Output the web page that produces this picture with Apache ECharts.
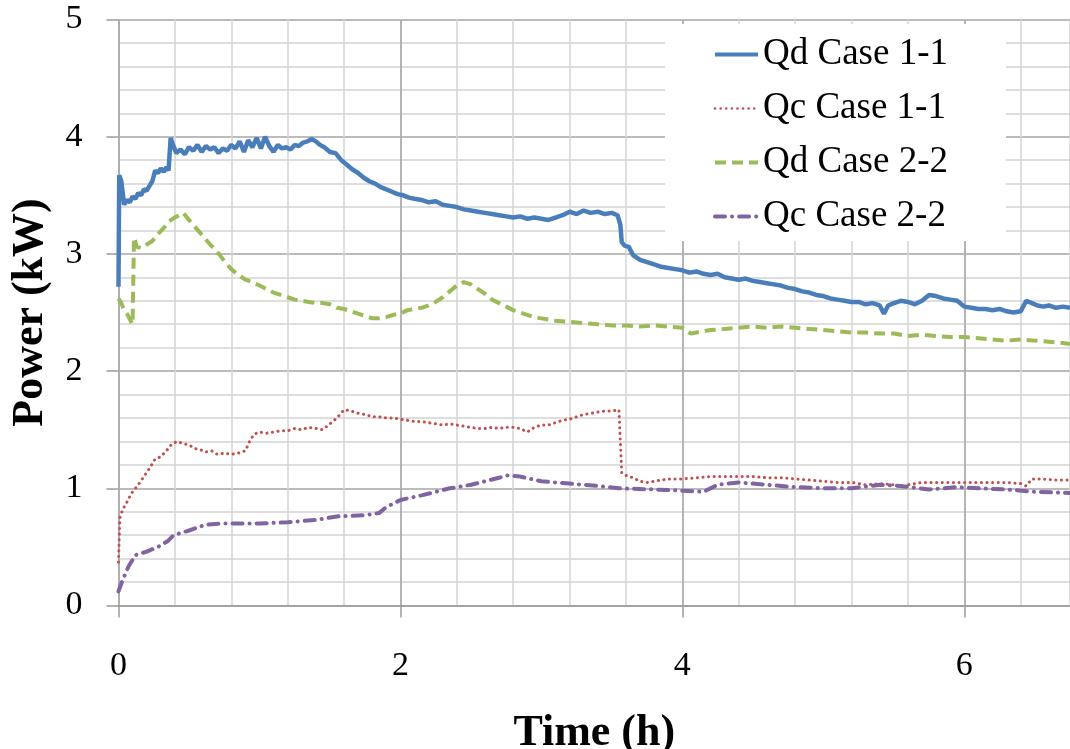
<!DOCTYPE html>
<html>
<head>
<meta charset="utf-8">
<script src="https://cdn.jsdelivr.net/npm/echarts@6/dist/echarts.min.js"></script>
<style>
html,body{margin:0;padding:0;background:#fff;}
#chart{width:1070px;height:749px;}
</style>
</head>
<body>
<div id="chart"></div>
<script>
// ---- Data (time in h, power in kW) ----
var seriesNames = ['Qd Case 1-1', 'Qc Case 1-1', 'Qd Case 2-2', 'Qc Case 2-2'];
var xTickLabels = [0, 2, 4, 6];
var yTickLabels = [0, 1, 2, 3, 4, 5];

var qdCase11Time = [0,0.005,0.02,0.04,0.06,0.08,0.10,0.12,0.14,0.16,0.18,0.20,0.22,0.24,0.26,0.28,0.30,0.32,0.34,0.355,0.37,0.39,0.41,0.44,0.47,0.50,0.53,0.56,0.59,0.62,0.65,0.68,0.71,0.74,0.77,0.80,0.83,0.86,0.89,0.92,0.95,0.98,1.01,1.04,1.07,1.10,1.13,1.16,1.19,1.22,1.25,1.28,1.31,1.34,1.37,1.40,1.43,1.46,1.50,1.54,1.58,1.62,1.66,1.70,1.74,1.78,1.82,1.86,1.90,1.94,1.98,2.02,2.06,2.10,2.15,2.20,2.25,2.30,2.35,2.40,2.45,2.50,2.55,2.60,2.65,2.70,2.75,2.80,2.85,2.90,2.95,3.00,3.05,3.10,3.15,3.20,3.25,3.30,3.35,3.40,3.45,3.50,3.54,3.56,3.57,3.59,3.62,3.65,3.70,3.75,3.80,3.85,3.90,3.95,4.00,4.05,4.10,4.15,4.20,4.25,4.30,4.35,4.40,4.45,4.50,4.55,4.60,4.65,4.70,4.75,4.80,4.85,4.90,4.95,5.00,5.05,5.10,5.15,5.20,5.25,5.30,5.35,5.40,5.43,5.46,5.50,5.55,5.60,5.65,5.70,5.75,5.80,5.85,5.90,5.95,6.00,6.05,6.10,6.15,6.20,6.25,6.30,6.35,6.40,6.44,6.48,6.52,6.56,6.60,6.65,6.70,6.75];
var qdCase11 = [2.72,3.67,3.62,3.42,3.46,3.44,3.49,3.47,3.52,3.50,3.55,3.54,3.58,3.62,3.71,3.69,3.73,3.70,3.74,3.71,3.99,3.92,3.86,3.89,3.85,3.91,3.88,3.93,3.87,3.92,3.89,3.91,3.86,3.90,3.88,3.93,3.90,3.96,3.87,3.97,3.91,3.99,3.90,4.00,3.92,3.87,3.93,3.90,3.91,3.89,3.93,3.92,3.95,3.96,3.98,3.96,3.93,3.91,3.87,3.86,3.80,3.76,3.72,3.69,3.65,3.62,3.60,3.57,3.55,3.53,3.51,3.50,3.48,3.47,3.46,3.44,3.45,3.42,3.41,3.40,3.38,3.37,3.36,3.35,3.34,3.33,3.32,3.31,3.32,3.30,3.31,3.30,3.29,3.31,3.33,3.36,3.34,3.37,3.35,3.36,3.34,3.35,3.33,3.25,3.10,3.07,3.06,2.99,2.95,2.93,2.91,2.89,2.88,2.87,2.86,2.84,2.85,2.83,2.82,2.83,2.80,2.79,2.78,2.79,2.77,2.76,2.75,2.74,2.73,2.71,2.70,2.68,2.67,2.65,2.64,2.62,2.61,2.60,2.59,2.59,2.57,2.58,2.56,2.49,2.56,2.58,2.60,2.59,2.57,2.60,2.65,2.64,2.62,2.61,2.60,2.55,2.54,2.53,2.53,2.52,2.53,2.51,2.50,2.51,2.60,2.58,2.56,2.55,2.56,2.54,2.55,2.54];

var qcCase11Time = [0,0.01,0.03,0.05,0.08,0.10,0.14,0.18,0.22,0.26,0.30,0.34,0.38,0.42,0.46,0.50,0.54,0.58,0.62,0.66,0.70,0.75,0.80,0.85,0.90,0.93,0.96,1.00,1.05,1.10,1.15,1.20,1.25,1.30,1.35,1.40,1.45,1.50,1.55,1.60,1.65,1.70,1.75,1.80,1.85,1.90,1.95,2.00,2.05,2.10,2.15,2.20,2.25,2.30,2.35,2.40,2.45,2.50,2.55,2.60,2.65,2.70,2.75,2.80,2.85,2.90,2.95,3.00,3.05,3.10,3.15,3.20,3.25,3.30,3.35,3.40,3.45,3.50,3.55,3.57,3.60,3.65,3.70,3.75,3.80,3.85,3.90,4.00,4.10,4.20,4.30,4.40,4.50,4.60,4.70,4.80,4.90,5.00,5.10,5.20,5.30,5.40,5.50,5.56,5.60,5.70,5.80,5.90,6.00,6.10,6.20,6.30,6.40,6.44,6.48,6.55,6.65,6.75];
var qcCase11 = [0.37,0.75,0.82,0.86,0.93,0.97,1.03,1.10,1.17,1.25,1.27,1.32,1.38,1.40,1.38,1.37,1.34,1.33,1.31,1.32,1.29,1.30,1.29,1.30,1.32,1.40,1.46,1.48,1.47,1.48,1.49,1.49,1.51,1.50,1.52,1.51,1.50,1.55,1.60,1.67,1.66,1.64,1.63,1.61,1.61,1.60,1.60,1.59,1.58,1.57,1.57,1.56,1.55,1.54,1.55,1.54,1.53,1.52,1.51,1.51,1.52,1.51,1.52,1.52,1.51,1.48,1.52,1.54,1.54,1.56,1.58,1.59,1.61,1.63,1.64,1.65,1.66,1.66,1.67,1.13,1.11,1.09,1.06,1.05,1.06,1.07,1.08,1.08,1.09,1.10,1.10,1.10,1.10,1.09,1.09,1.08,1.07,1.06,1.05,1.05,1.03,1.04,1.03,1.01,1.03,1.05,1.05,1.05,1.05,1.05,1.05,1.05,1.04,1.02,1.08,1.08,1.07,1.07];

var qdCase22Time = [0,0.02,0.04,0.06,0.09,0.10,0.11,0.13,0.16,0.20,0.24,0.28,0.32,0.36,0.40,0.46,0.50,0.55,0.60,0.65,0.70,0.75,0.80,0.85,0.90,0.95,1.00,1.05,1.10,1.15,1.20,1.25,1.30,1.35,1.40,1.45,1.50,1.55,1.60,1.65,1.70,1.75,1.80,1.85,1.90,1.95,2.00,2.05,2.10,2.15,2.20,2.25,2.30,2.35,2.40,2.45,2.50,2.55,2.60,2.65,2.70,2.75,2.80,2.85,2.90,2.95,3.00,3.10,3.20,3.30,3.40,3.50,3.60,3.70,3.80,3.90,4.00,4.06,4.10,4.20,4.30,4.40,4.50,4.60,4.70,4.80,4.90,5.00,5.10,5.20,5.30,5.40,5.50,5.60,5.70,5.80,5.90,6.00,6.10,6.20,6.30,6.40,6.50,6.60,6.70,6.75];
var qdCase22 = [2.62,2.58,2.52,2.49,2.42,2.40,3.14,3.06,3.05,3.08,3.11,3.17,3.22,3.28,3.31,3.35,3.29,3.22,3.15,3.08,3.02,2.94,2.87,2.82,2.78,2.76,2.73,2.70,2.67,2.65,2.63,2.61,2.60,2.59,2.58,2.58,2.57,2.54,2.53,2.51,2.49,2.47,2.45,2.45,2.46,2.48,2.49,2.52,2.53,2.54,2.56,2.59,2.63,2.68,2.73,2.76,2.74,2.70,2.66,2.61,2.58,2.55,2.52,2.50,2.48,2.46,2.45,2.43,2.42,2.41,2.40,2.39,2.39,2.38,2.39,2.38,2.37,2.32,2.33,2.35,2.36,2.37,2.38,2.37,2.38,2.37,2.36,2.35,2.34,2.33,2.33,2.32,2.32,2.30,2.31,2.30,2.29,2.29,2.28,2.27,2.26,2.27,2.26,2.25,2.24,2.23];

var qcCase22Time = [0,0.03,0.07,0.12,0.20,0.28,0.35,0.39,0.50,0.62,0.75,0.85,1.00,1.20,1.40,1.55,1.75,1.85,1.90,2.00,2.15,2.25,2.35,2.50,2.70,2.76,2.85,3.00,3.20,3.40,3.55,3.80,4.00,4.15,4.25,4.40,4.60,4.80,5.00,5.20,5.40,5.55,5.75,5.95,6.10,6.30,6.50,6.75];
var qcCase22 = [0.12,0.22,0.33,0.43,0.46,0.50,0.55,0.60,0.64,0.69,0.70,0.70,0.70,0.71,0.73,0.76,0.77,0.79,0.84,0.90,0.94,0.97,1.00,1.03,1.09,1.11,1.10,1.06,1.04,1.02,1.00,0.99,0.98,0.97,1.03,1.05,1.03,1.01,1.00,1.00,1.03,1.02,0.99,1.01,1.00,0.99,0.97,0.96];

function pairs(t, v) {
  var out = [];
  for (var i = 0; i < t.length; i++) out.push([t[i], v[i]]);
  return out;
}

var FONT = '"Liberation Serif", "Times New Roman", serif';
var chart = echarts.init(document.getElementById('chart'), null, {renderer: 'canvas'});

var option = {
  animation: false,
  backgroundColor: '#ffffff',
  grid: {left: 118.5, top: 19.5, right: 0, bottom: 143.5, containLabel: false, outerBoundsMode: 'none', show: false},
  xAxis: [
    {
      type: 'value', min: 0, max: 6.75, interval: 2, z: 2,
      axisLine: {show: true, onZero: false, lineStyle: {color: '#9a9a9a', width: 1.5}},
      axisTick: {show: true, inside: false, length: 12, lineStyle: {color: '#9a9a9a', width: 1.5},
        customValues: xTickLabels},
      axisLabel: {show: true, margin: 44, fontFamily: FONT, fontSize: 34, color: '#000',
        customValues: xTickLabels},
      splitLine: {show: true, lineStyle: {color: '#a6a6a6', width: 1.5}},
      name: 'Time (h)', nameLocation: 'middle', nameGap: 106,
      nameTextStyle: {fontFamily: FONT, fontSize: 44, fontWeight: 'bold', color: '#000'}
    },
    {
      type: 'value', min: 0, max: 6.75, interval: 0.4, z: 1,
      axisLine: {show: false}, axisTick: {show: false}, axisLabel: {show: false},
      splitLine: {show: true, lineStyle: {color: '#d4d4d4', width: 1.5}}
    }
  ],
  yAxis: {
    type: 'value', min: 0, max: 5, interval: 1,
    axisLine: {show: true, lineStyle: {color: '#9a9a9a', width: 1.5}},
    axisTick: {show: true, inside: false, length: 12, lineStyle: {color: '#9a9a9a', width: 1.5}},
    axisLabel: {show: true, margin: 36, fontFamily: FONT, fontSize: 34, color: '#000',
      customValues: yTickLabels},
    splitLine: {show: true, lineStyle: {color: '#a6a6a6', width: 1.5}},
    minorTick: {show: false, splitNumber: 5},
    minorSplitLine: {show: true, lineStyle: {color: '#d4d4d4', width: 1.5}},
    name: 'Power (kW)', nameLocation: 'middle', nameGap: 66, nameRotate: 90,
    nameTextStyle: {fontFamily: FONT, fontSize: 44, fontWeight: 'bold', color: '#000'}
  },
  legend: {
    show: true, orient: 'vertical', left: 665, top: 24,
    backgroundColor: '#ffffff', borderWidth: 0,
    padding: [12, 58, 6, 48],
    itemWidth: 43, itemHeight: 14, itemGap: 17,
    itemStyle: {opacity: 0},
    textStyle: {fontFamily: FONT, fontSize: 37, color: '#000'},
    data: [
      {name: seriesNames[0], lineStyle: {width: 4}},
      {name: seriesNames[1], lineStyle: {width: 2.5}},
      {name: seriesNames[2], lineStyle: {width: 4}},
      {name: seriesNames[3], lineStyle: {width: 4}}
    ]
  },
  series: [
    {
      name: seriesNames[0], type: 'line', xAxisIndex: 0, symbol: 'none', showSymbol: false,
      data: pairs(qdCase11Time, qdCase11), z: 4,
      lineStyle: {color: '#4a7ebb', width: 4.5, type: 'solid'},
      itemStyle: {color: '#4a7ebb'}
    },
    {
      name: seriesNames[1], type: 'line', xAxisIndex: 0, symbol: 'none', showSymbol: false,
      data: pairs(qcCase11Time, qcCase11), z: 3,
      lineStyle: {color: '#c0504d', width: 3, type: [0.1, 5.5], cap: 'round'},
      itemStyle: {color: '#c0504d'}
    },
    {
      name: seriesNames[2], type: 'line', xAxisIndex: 0, symbol: 'none', showSymbol: false,
      data: pairs(qdCase22Time, qdCase22), z: 3,
      lineStyle: {color: '#9bbb59', width: 4, type: [11, 6]},
      itemStyle: {color: '#9bbb59'}
    },
    {
      name: seriesNames[3], type: 'line', xAxisIndex: 0, symbol: 'none', showSymbol: false,
      data: pairs(qcCase22Time, qcCase22), z: 3,
      lineStyle: {color: '#8064a2', width: 4, type: [10, 7, 0.1, 7], cap: 'round'},
      itemStyle: {color: '#8064a2'}
    }
  ]
};
chart.setOption(option);
</script>
</body>
</html>
